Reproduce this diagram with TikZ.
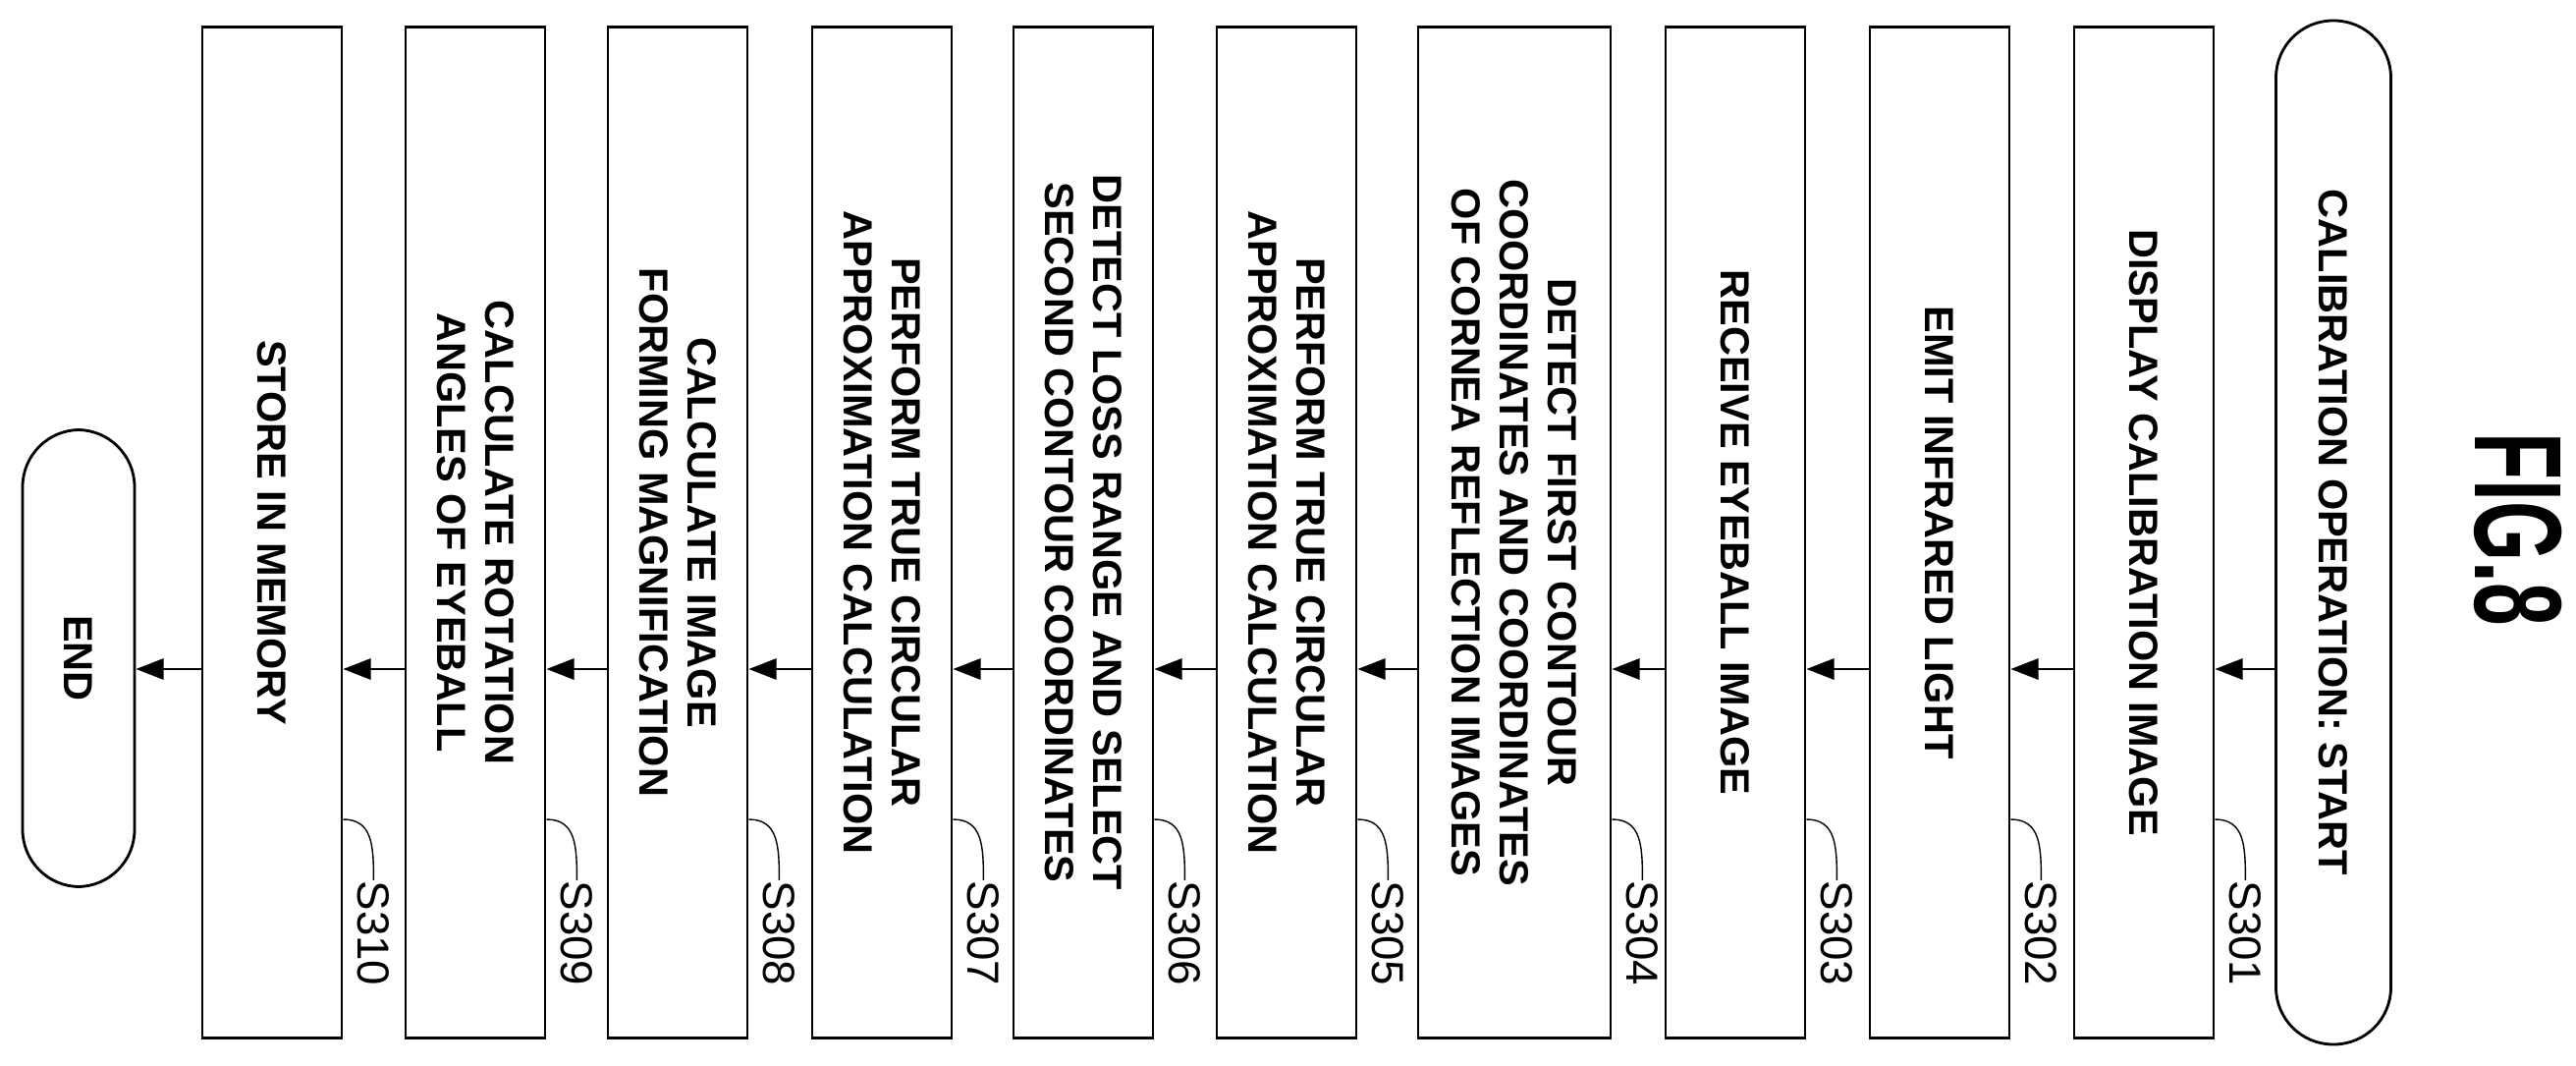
\documentclass[tikz,border=0pt]{standalone}
\usepackage{fontspec}
\setmainfont{Liberation Sans}
\usetikzlibrary{arrows.meta,calc}

\tikzset{
  stepbox/.style={draw, thick, rotate=-90, minimum width=10.29cm, minimum height=1.42cm,
    align=center, font=\bfseries\fontsize{11.8}{14}\selectfont, inner sep=2pt},
  term/.style={stepbox, rounded corners=0.58cm, minimum height=1.17cm},
  flow/.style={thick, -{Triangle[length=8pt,width=6pt]}},
  lbl/.style={rotate=-90, font=\fontsize{13}{15}\selectfont, inner sep=0pt},
}

\begin{document}
\begin{tikzpicture}
    \useasboundingbox (0,0) rectangle (26.23,10.85);
    \coordinate (arr) at (0,4.04);
    \coordinate (ldy) at (0,2.51);

    \node[term, minimum width=10.42cm] (start) at (23.76,5.43) {CALIBRATION OPERATION: START};
    \node[stepbox] (s301) at (21.83,5.43) {DISPLAY CALIBRATION IMAGE};
    \node[stepbox] (s302) at (19.75,5.43) {EMIT INFRARED LIGHT};
    \node[stepbox] (s303) at (17.67,5.43) {RECEIVE EYEBALL IMAGE};
    \node[stepbox, minimum height=1.96cm] (s304) at (15.42,5.43) {DETECT FIRST CONTOUR\\COORDINATES AND COORDINATES\\OF CORNEA REFLECTION IMAGES};
    \node[stepbox] (s305) at (13.10,5.43) {PERFORM TRUE CIRCULAR\\APPROXIMATION CALCULATION};
    \node[stepbox] (s306) at (11.03,5.43) {DETECT LOSS RANGE AND SELECT\\SECOND CONTOUR COORDINATES};
    \node[stepbox] (s307) at (8.98,5.43) {PERFORM TRUE CIRCULAR\\APPROXIMATION CALCULATION};
    \node[stepbox] (s308) at (6.90,5.43) {CALCULATE IMAGE\\FORMING MAGNIFICATION};
    \node[stepbox] (s309) at (4.84,5.43) {CALCULATE ROTATION\\ANGLES OF EYEBALL};
    \node[stepbox] (s310) at (2.77,5.43) {STORE IN MEMORY};
    \node[term, minimum width=4.65cm, minimum height=1.14cm] (end) at (0.80,4.15) {END};

    \node[rotate=-90, font=\bfseries\fontsize{36}{40}\selectfont] (fig) at (25.64,5.46) {\scalebox{0.62}[1]{FIG.8}};

    % connectors
    \foreach \a/\b in {start/s301, s301/s302, s302/s303, s303/s304, s304/s305,
                       s305/s306, s306/s307, s307/s308, s308/s309, s309/s310, s310/end}
        \draw[flow] (\a.south |- arr) -- (\b.north |- arr);

    % step labels
    \foreach \s in {301,302,303,304,305,306,307,308,309,310} {
        \node[lbl, anchor=west] (l\s) at ($(s\s.north |- ldy)+(0.31,-0.62)$) {S\s};
        \draw[thin] (s\s.north |- ldy) .. controls +(0.3,0) and +(0,0.35) .. (l\s.west);
    }
\end{tikzpicture}
\end{document}
